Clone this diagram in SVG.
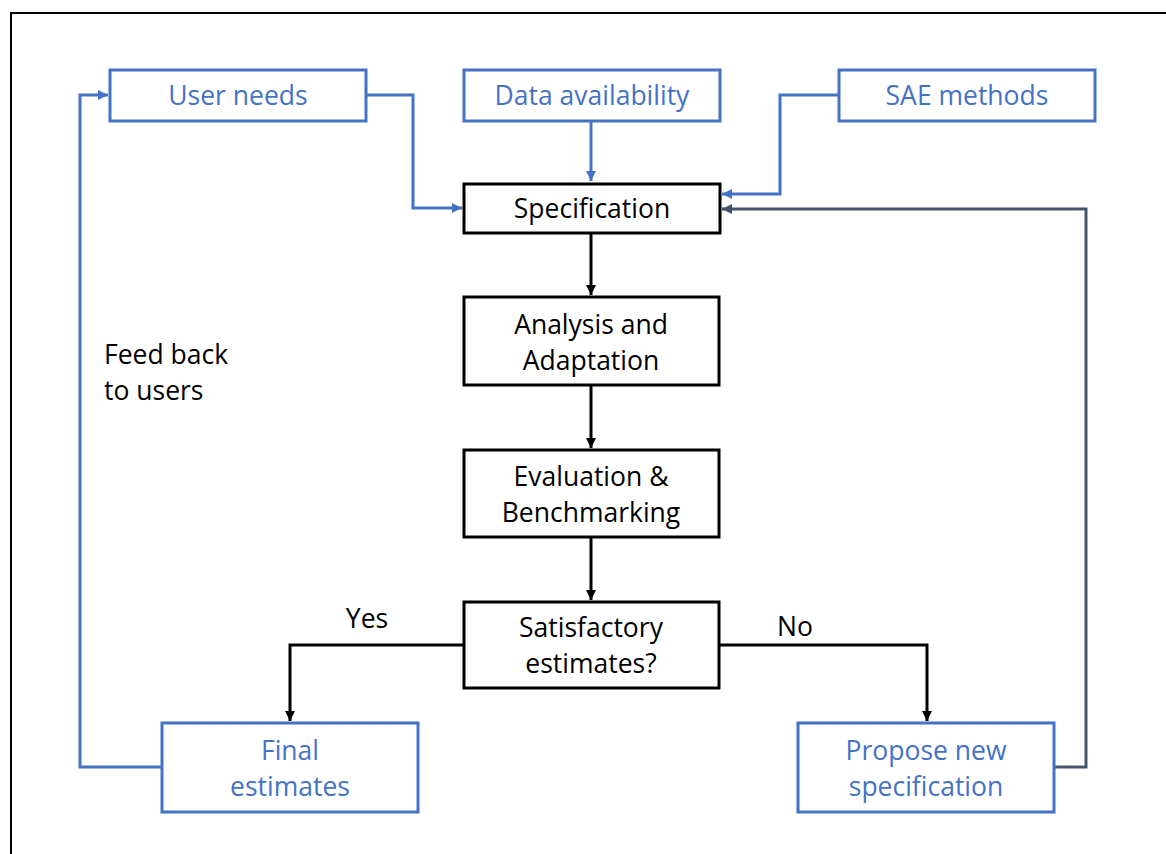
<svg xmlns="http://www.w3.org/2000/svg" width="1166" height="854" viewBox="0 0 1166 854">
  <style>
    .txt { font-family: "Open Sans", "Noto Sans", "Liberation Sans", sans-serif; font-size: 26.5px; text-anchor: middle; }
    .blue { fill: #4472C4; }
    .black { fill: #000000; }
    .box-blue { fill: #ffffff; stroke: #4472C4; stroke-width: 3; }
    .box-black { fill: #ffffff; stroke: #000000; stroke-width: 3; }
    .c-blue { fill: none; stroke: #4472C4; stroke-width: 3; }
    .c-black { fill: none; stroke: #000000; stroke-width: 3; }
    .c-slate { fill: none; stroke: #44546A; stroke-width: 3; }
  </style>
  <defs>
    <marker id="ah-blue" markerUnits="userSpaceOnUse" markerWidth="12" markerHeight="10" refX="10" refY="5" orient="auto">
      <path d="M0,0 L10,5 L0,10 z" fill="#4472C4"/>
    </marker>
    <marker id="ah-black" markerUnits="userSpaceOnUse" markerWidth="12" markerHeight="10" refX="10" refY="5" orient="auto">
      <path d="M0,0 L10,5 L0,10 z" fill="#000000"/>
    </marker>
    <marker id="ah-slate" markerUnits="userSpaceOnUse" markerWidth="12" markerHeight="10" refX="10" refY="5" orient="auto">
      <path d="M0,0 L10,5 L0,10 z" fill="#44546A"/>
    </marker>
  </defs>

  <rect width="1166" height="854" fill="#ffffff"/>
  <!-- outer frame -->
  <path d="M11,860 L11,13 L1170,13" fill="none" stroke="#000000" stroke-width="2"/>

  <g id="connectors">
    <path class="c-blue" d="M366,95 H413 V208 H462" marker-end="url(#ah-blue)"/>
    <path class="c-blue" d="M591,121 V181" marker-end="url(#ah-blue)"/>
    <path class="c-blue" d="M839,95 H780 V194 H722" marker-end="url(#ah-blue)"/>
    <path class="c-slate" d="M1054,767 H1086 V209 H722" marker-end="url(#ah-slate)"/>
    <path class="c-black" d="M591,233 V295" marker-end="url(#ah-black)"/>
    <path class="c-black" d="M591,385 V448" marker-end="url(#ah-black)"/>
    <path class="c-black" d="M591,537 V600" marker-end="url(#ah-black)"/>
    <path class="c-black" d="M464,645 H290 V721" marker-end="url(#ah-black)"/>
    <path class="c-black" d="M720,645 H927 V721" marker-end="url(#ah-black)"/>
    <path class="c-blue" d="M161,767 H80 V95 H108" marker-end="url(#ah-blue)"/>
  </g>

  <g id="user-needs">
    <rect class="box-blue" x="110" y="70" width="256" height="51"/>
    <text class="txt blue" x="238" y="105">User needs</text>
  </g>
  <g id="data-availability">
    <rect class="box-blue" x="464" y="70" width="256" height="51"/>
    <text class="txt blue" x="592" y="105">Data availability</text>
  </g>
  <g id="sae-methods">
    <rect class="box-blue" x="839" y="70" width="256" height="51"/>
    <text class="txt blue" x="967" y="105">SAE methods</text>
  </g>
  <g id="specification">
    <rect class="box-black" x="464" y="184" width="256" height="49"/>
    <text class="txt black" x="592" y="218">Specification</text>
  </g>
  <g id="analysis">
    <rect class="box-black" x="464" y="297" width="255" height="88"/>
    <text class="txt black" x="591" y="334">Analysis and</text>
    <text class="txt black" x="591" y="370">Adaptation</text>
  </g>
  <g id="evaluation">
    <rect class="box-black" x="464" y="450" width="255" height="87"/>
    <text class="txt black" x="591" y="486">Evaluation &amp;</text>
    <text class="txt black" x="591" y="522">Benchmarking</text>
  </g>
  <g id="satisfactory">
    <rect class="box-black" x="464" y="602" width="255" height="86"/>
    <text class="txt black" x="591" y="637">Satisfactory</text>
    <text class="txt black" x="591" y="673">estimates?</text>
  </g>
  <g id="final-estimates">
    <rect class="box-blue" x="162" y="723" width="256" height="89"/>
    <text class="txt blue" x="290" y="760">Final</text>
    <text class="txt blue" x="290" y="796">estimates</text>
  </g>
  <g id="propose-new">
    <rect class="box-blue" x="798" y="723" width="256" height="89"/>
    <text class="txt blue" x="926" y="760">Propose new</text>
    <text class="txt blue" x="926" y="796">specification</text>
  </g>

  <g id="labels">
    <text class="txt black" x="104" y="364" style="text-anchor:start">Feed back</text>
    <text class="txt black" x="104" y="400" style="text-anchor:start">to users</text>
    <text class="txt black" x="367" y="628">Yes</text>
    <text class="txt black" x="795" y="636">No</text>
  </g>
</svg>
